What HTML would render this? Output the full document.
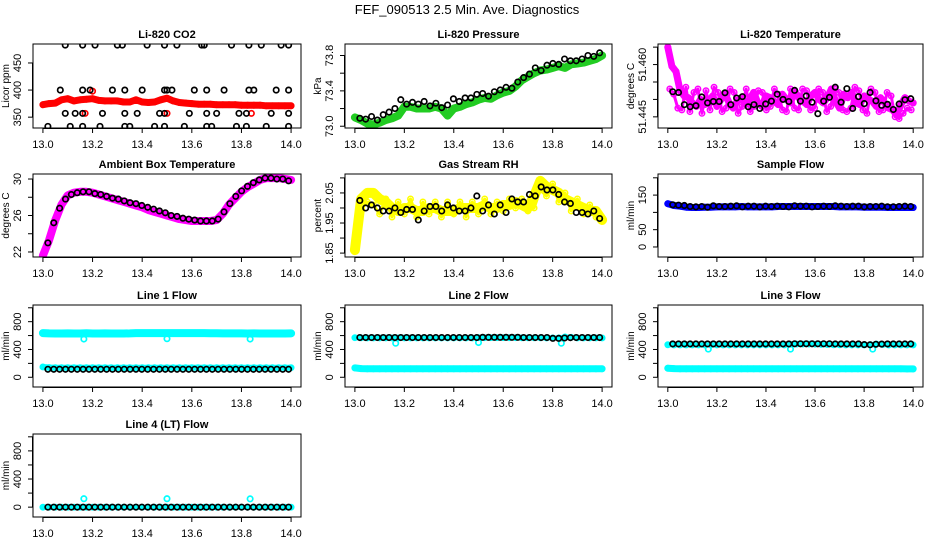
<!DOCTYPE html>
<html><head><meta charset="utf-8">
<style>
html,body{margin:0;padding:0;background:#fff;}
svg{display:block;font-family:"Liberation Sans",Arial,sans-serif;}
</style></head>
<body>
<svg id="chart" width="936" height="540" viewBox="0 0 936 540" xmlns="http://www.w3.org/2000/svg">
<rect width="936" height="540" fill="#fff"/>
<text x="467" y="14" text-anchor="middle" font-size="13">FEF_090513  2.5 Min. Ave. Diagnostics</text>
</svg>
<script>
// ---- data ----
const xTicks = [13.0, 13.2, 13.4, 13.6, 13.8, 14.0];
const xTickLabels = ["13.0", "13.2", "13.4", "13.6", "13.8", "14.0"];

// CO2
const co2RefT = [13.09,13.16,13.21,13.30,13.32,13.42,13.49,13.54,13.64,13.65,13.76,13.83,13.88,13.96,13.99,
  13.07,13.16,13.19,13.28,13.33,13.40,13.49,13.50,13.52,13.61,13.66,13.73,13.83,13.85,13.94,13.99,
  13.09,13.13,13.16,13.24,13.33,13.38,13.47,13.49,13.59,13.66,13.70,13.79,13.82,13.92,13.99,
  13.02,13.11,13.16,13.23,13.33,13.35,13.45,13.49,13.57,13.66,13.68,13.78,13.82,13.90,13.99];
const co2RefV = [483,483,483,483,483,483,483,483,483,483,483,483,483,483,483,
  400,400,400,400,400,400,400,400,400,400,400,400,400,400,400,400,
  357,357,357,357,357,357,357,357,357,357,357,357,357,357,357,
  333,333,333,333,333,333,333,333,333,333,333,333,333,333,333];
const co2Dense = [373,375,376,382,384,380,382,383,384,381,380,380,380,378,378,382,378,377,378,382,385,380,377,376,375,374,374,374,373,373,373,373,372,372,372,372,371,371,371,371,371];
const co2OutT = [13.2, 13.17, 13.5, 13.84];
const co2OutV = [398, 357, 357, 357];

// Pressure
const presBlack = [73.09,73.08,73.11,73.07,73.13,73.16,73.2,73.3,73.25,73.27,73.25,73.28,73.23,73.26,73.21,73.24,73.31,73.28,73.32,73.32,73.36,73.37,73.34,73.39,73.41,73.44,73.43,73.5,73.55,73.59,73.66,73.63,73.69,73.71,73.7,73.76,73.74,73.74,73.76,73.8,73.79,73.83];
const presDense = [73.1,73.07,73.03,73.02,73.04,73.07,73.09,73.12,73.22,73.22,73.2,73.2,73.2,73.22,73.2,73.12,73.2,73.22,73.25,73.27,73.3,73.32,73.31,73.35,73.38,73.4,73.45,73.52,73.56,73.6,73.63,73.64,73.66,73.68,73.66,73.7,73.71,73.72,73.74,73.76,73.8];

// Li-820 temperature
const tempBlack = [51.4522,51.4520,51.4485,51.4479,51.4482,51.4507,51.4490,51.4494,51.4494,51.4519,51.4485,51.4504,51.4508,51.4479,51.4485,51.4474,51.4487,51.4495,51.4515,51.4500,51.4494,51.4526,51.4495,51.4510,51.4492,51.4459,51.4495,51.4506,51.4535,51.4492,51.4531,51.4474,51.4508,51.4488,51.4520,51.4496,51.4483,51.4486,51.4471,51.4487,51.4499,51.4502];
const tempMag = [51.4650,51.4595,51.4580,51.4525,51.4510,51.4505,51.4490,51.4480,51.4500,51.4485,51.4495,51.4510,51.4480,51.4500,51.4515,51.4490,51.4475,51.4495,51.4505,51.4485,51.4500,51.4520,51.4490,51.4480,51.4510,51.4505,51.4495,51.4485,51.4515,51.4500,51.4490,51.4525,51.4505,51.4495,51.4485,51.4510,51.4520,51.4500,51.4490,51.4505,51.4530,51.4495,51.4475,51.4515,51.4505,51.4520,51.4490,51.4485,51.4510,51.4500,51.4495,51.4480,51.4505,51.4490,51.4475,51.4470,51.4455,51.4485,51.4505,51.4495,51.4490];
const tempMag2 = [51.4530,51.4515,51.4475,51.4470,51.4535,51.4465,51.4520,51.4530,51.4460,51.4525,51.4470,51.4535,51.4520,51.4465,51.4475,51.4530,51.4520,51.4460,51.4480,51.4530,51.4465,51.4480,51.4525,51.4520,51.4470,51.4480,51.4530,51.4515,51.4470,51.4465,51.4530,51.4475,51.4470,51.4530,51.4525,51.4470,51.4475,51.4530,51.4520,51.4465,51.4480,51.4530,51.4520,51.4470,51.4465,51.4475,51.4535,51.4525,51.4470,51.4460,51.4530,51.4520,51.4465,51.4470,51.4520,51.4510,51.4450,51.4445,51.4460,51.4475,51.4470];

// Ambient box temperature
const ambBlack = [23.0,25.2,26.8,27.8,28.3,28.5,28.6,28.6,28.4,28.3,28.1,27.9,27.8,27.6,27.4,27.3,27.1,26.9,26.7,26.5,26.3,26.0,25.9,25.7,25.6,25.5,25.4,25.4,25.4,25.6,26.4,27.3,28.1,28.7,29.2,29.6,29.9,30.1,30.1,30.0,30.0,29.8];
const ambDense = [21.6,23.3,25.5,27.2,28.2,28.5,28.6,28.6,28.5,28.3,28.1,27.9,27.7,27.5,27.3,27.1,26.9,26.6,26.4,26.2,26.0,25.8,25.6,25.5,25.4,25.4,25.4,25.4,25.5,26.2,27.2,27.9,28.6,29.1,29.5,29.9,30.1,30.1,30.1,30.0,29.9];

// Gas stream RH
const rhBlack = [2.025,2.0,2.01,2.0,1.99,1.99,2.0,1.985,1.995,1.995,1.96,1.99,2.005,2.005,1.99,2.01,2.0,1.99,1.99,2.0,2.04,1.99,2.01,1.98,2.01,1.985,2.03,2.02,2.02,2.045,2.04,2.07,2.06,2.06,2.045,2.02,2.015,1.985,1.985,1.98,1.99,1.965];
const rhDense = [1.86,2.03,2.05,2.05,2.03,2.02,2.0,1.99,2.0,2.0,1.99,1.99,2.0,2.0,1.99,1.99,1.99,2.0,2.0,2.0,2.0,2.01,2.0,2.0,2.01,2.01,2.02,2.01,2.0,2.04,2.09,2.07,2.06,2.05,2.03,2.02,2.01,2.0,1.99,1.99,1.96];
const rhDense2 = [1.90,2.00,2.02,2.01,1.98,2.03,1.97,2.02,1.98,2.03,1.97,2.02,1.98,2.02,1.97,2.02,1.98,2.02,1.97,2.02,1.98,2.03,1.98,2.02,1.99,2.03,2.00,2.03,1.99,2.00,2.06,2.04,2.08,2.02,2.05,1.99,2.03,1.98,2.01,1.97,1.96];

// Sample flow
const sfBlack = [122,121,120,117,116,117,115,119,117,117,118,119,116,118,118,116,118,117,118,117,116,119,118,118,116,117,118,117,119,118,117,118,118,116,117,117,118,116,116,117,118,117];
const sfDense = [125,120,118,115,114,114,115,115,116,116,116,116,117,116,116,116,116,116,117,117,117,117,117,117,117,117,117,117,116,116,116,116,115,115,115,115,114,114,114,114,114];

// Line flows
const dipT = [13.165, 13.5, 13.835];
const l1Black = [115,115,115,115,115,115,115,115,115,115,115,115,115,115,115,115,115,115,115,115,115,115,115,115,115,115,115,115,115,115,115,115,115,115,115,115,115,115,115,115,115,115];
const l1Upper = [635,632,630,630,632,630,630,633,630,630,632,630,630,630,632,635,635,636,636,636,635,635,636,636,635,635,635,634,634,632,632,632,632,630,632,630,630,630,630,630,632];
const l1Lower = [148,140,138,138,138,138,138,138,138,138,138,138,138,138,138,138,138,138,138,138,138,138,138,138,138,138,138,138,138,138,138,138,138,138,138,138,138,138,138,138,138];
const l1Dips = [550, 555, 550];

const l2Black = [572,572,572,572,572,572,572,572,572,572,572,572,572,572,572,572,572,572,572,572,572,575,575,575,575,575,575,575,572,572,572,572,572,560,560,565,570,572,572,572,572,572];
const l2Upper = [570,568,566,566,566,566,566,566,566,566,566,566,566,566,566,566,566,566,566,566,570,570,570,570,570,570,570,568,568,568,568,566,566,566,580,575,566,566,566,566,566];
const l2Lower = [135,125,122,122,122,122,122,122,122,122,122,122,122,122,122,122,122,122,122,122,122,122,122,122,122,122,122,122,122,122,122,122,122,122,122,122,122,122,122,122,122];
const l2Dips = [490, 500, 490];

const l3Black = [480,480,480,480,480,480,480,480,480,480,480,480,480,480,480,480,480,480,480,480,480,482,482,482,482,482,482,482,480,480,480,480,480,470,468,475,478,480,480,480,480,480];
const l3Upper = [468,466,466,466,466,466,466,466,466,466,466,466,466,466,466,466,466,466,466,466,475,478,478,478,476,472,470,468,468,466,466,466,466,470,478,470,466,466,466,466,466];
const l3Lower = [130,125,122,122,122,122,122,122,122,122,122,122,122,122,122,122,122,122,122,122,122,122,122,122,122,122,122,122,122,122,122,122,122,122,122,122,122,122,122,120,120];
const l3Dips = [405, 405, 405];

const l4Black = [0,0,0,0,0,0,0,0,0,0,0,0,0,0,0,0,0,0,0,0,0,0,0,0,0,0,0,0,0,0,0,0,0,0,0,0,0,0,0,0,0,0];
const l4Dense = [0,0,0,0,0,0,0,0,0,0,0,0,0,0,0,0,0,0,0,0,0,0,0,0,0,0,0,0,0,0,0,0,0,0,0,0,0,0,0,0,0];
const l4Out = [120, 120, 118];

// ---- rendering ----
const NS = "http://www.w3.org/2000/svg";
const svg = document.getElementById("chart");
const colL = [33, 345, 658], colR = [301, 612, 923];
const rowT = [44, 174, 305, 434], rowB = [128, 257, 387, 517];
const XMIN = 12.96, XMAX = 14.04;

function el(tag, attrs, parent) {
  const e = document.createElementNS(NS, tag);
  for (const k in attrs) e.setAttribute(k, attrs[k]);
  (parent || svg).appendChild(e);
  return e;
}
function timesN(n, start, end) { const a = []; for (let i = 0; i < n; i++) a.push(start + (end - start) * i / (n - 1)); return a; }

function panel(key, col, row, title, ylab, ymin, ymax, yt, ytl, draw) {
  const L = colL[col], R = colR[col], T = rowT[row], B = rowB[row];
  const g = el("g", {});
  
  
  const sx = v => L + (v - XMIN) / (XMAX - XMIN) * (R - L);
  const sy = v => B - (v - ymin) / (ymax - ymin) * (B - T);
  const clipId = "clip-" + key;
  const cp = el("clipPath", { id: clipId }, g);
  el("rect", { x: L, y: T, width: R - L, height: B - T }, cp);
  const plot = el("g", { "clip-path": "url(#" + clipId + ")" }, g);
  
  
  draw(plot, sx, sy);
  const box = el("rect", { x: L, y: T, width: R - L, height: B - T, fill: "none", stroke: "#000", "stroke-width": 1 }, g);
  
  
  const t = el("text", { x: (L + R) / 2, y: T - 6, "text-anchor": "middle", "font-size": 11, "font-weight": "bold" }, g);
  
  
  t.textContent = title;
  const xa = el("g", {}, g);
  
  
  el("line", { x1: sx(xTicks[0]), x2: sx(xTicks[xTicks.length - 1]), y1: B + 0.5, y2: B + 0.5, stroke: "#000" }, xa);
  xTicks.forEach((v, i) => {
    el("line", { x1: sx(v), x2: sx(v), y1: B, y2: B + 5, stroke: "#000" }, xa);
    const tl = el("text", { x: sx(v), y: B + 20, "text-anchor": "middle", "font-size": 11 }, xa);
    
    
    tl.textContent = xTickLabels[i];
  });
  const ya = el("g", {}, g);
  
  
  el("line", { x1: L - 0.5, x2: L - 0.5, y1: sy(yt[0]), y2: sy(yt[yt.length - 1]), stroke: "#000" }, ya);
  yt.forEach((v, i) => {
    el("line", { x1: L - 5, x2: L, y1: sy(v), y2: sy(v), stroke: "#000" }, ya);
    if (ytl[i]) {
      const tl = el("text", { x: L - 12, y: sy(v), "text-anchor": "middle", "font-size": 11, transform: "rotate(-90 " + (L - 12) + " " + sy(v) + ")" }, ya);
      
      
      tl.textContent = ytl[i];
    }
  });
  const yl = el("text", { x: L - 24, y: (T + B) / 2, "text-anchor": "middle", "font-size": 10, transform: "rotate(-90 " + (L - 24) + " " + (T + B) / 2 + ")" }, g);
  
  
  yl.textContent = ylab;
}

function pts(parent, sx, sy, ts, vs, color, name, r, sw) {
  const g = el("g", {}, parent);
  
  
  for (let i = 0; i < vs.length; i++) {
    const c = el("circle", { cx: sx(ts[i]), cy: sy(vs[i]), r: r || 2.7, fill: "none", stroke: color, "stroke-width": sw || 1.7 }, g);
    
    
  }
}
function band(parent, sx, sy, ts, vs, color, name, w) {
  const d = vs.map((v, i) => (i ? "L" : "M") + sx(ts[i]).toFixed(1) + " " + sy(v).toFixed(1)).join(" ");
  const p = el("path", { d: d, fill: "none", stroke: color, "stroke-width": w, "stroke-linejoin": "round", "stroke-linecap": "round" }, parent);
  
  
  pts(parent, sx, sy, ts, vs, color, name + '-points', 2.7, 1.5);
}

const tB = timesN(42, 13.02, 13.99);
const tD = timesN(41, 13.0, 14.0);
const tM = timesN(61, 13.0, 14.0);
const tM2 = timesN(61, 13.008, 13.992);

panel("co2", 0, 0, "Li-820 CO2", "Licor ppm", 330, 485, [350, 400, 450], ["350", "400", "450"], (g, sx, sy) => {
  band(g, sx, sy, tD, co2Dense, "#ff0000", "co2-band", 7);
  pts(g, sx, sy, co2OutT, co2OutV, "#ff0000", "co2-outliers");
  pts(g, sx, sy, co2RefT, co2RefV, "#000", "co2-reference-points");
});
panel("pressure", 1, 0, "Li-820 Pressure", "kPa", 72.98, 73.93, [73.0, 73.2, 73.4, 73.6, 73.8], ["73.0", "", "73.4", "", "73.8"], (g, sx, sy) => {
  band(g, sx, sy, tD, presDense, "#22cc22", "pressure-band", 8);
  pts(g, sx, sy, tB, presBlack, "#000", "pressure-reference-points");
});
panel("licor-temp", 2, 0, "Li-820 Temperature", "degrees C", 51.4418, 51.4659, [51.445, 51.450, 51.455, 51.460, 51.465], ["51.445", "", "", "51.460", ""], (g, sx, sy) => {
  band(g, sx, sy, tM2, tempMag2, "#ff00ff", "licor-temp-scatter", 3);
  band(g, sx, sy, tM, tempMag, "#ff00ff", "licor-temp-band", 7);
  pts(g, sx, sy, tB, tempBlack, "#000", "licor-temp-reference-points");
});
panel("ambient", 0, 1, "Ambient Box Temperature", "degrees C", 21.45, 30.55, [22, 24, 26, 28, 30], ["22", "", "26", "", "30"], (g, sx, sy) => {
  band(g, sx, sy, tD, ambDense, "#ff00ff", "ambient-band", 8);
  pts(g, sx, sy, tB, ambBlack, "#000", "ambient-reference-points");
});
panel("rh", 1, 1, "Gas Stream RH", "percent", 1.837, 2.113, [1.85, 1.90, 1.95, 2.00, 2.05, 2.10], ["1.85", "", "1.95", "", "2.05", ""], (g, sx, sy) => {
  band(g, sx, sy, tD, rhDense2, "#ffff00", "rh-scatter", 3);
  band(g, sx, sy, tD, rhDense, "#ffff00", "rh-band", 10);
  pts(g, sx, sy, tB, rhBlack, "#000", "rh-reference-points");
});
panel("sample-flow", 2, 1, "Sample Flow", "ml/min", -29, 211, [0, 50, 100, 150, 200], ["0", "50", "", "150", ""], (g, sx, sy) => {
  band(g, sx, sy, tD, sfDense, "#0000ff", "sample-flow-band", 7);
  pts(g, sx, sy, tB, sfBlack, "#000", "sample-flow-reference-points");
});
const fTicks = [0, 200, 400, 600, 800, 1000], fLabels = ["0", "", "400", "", "800", ""];
panel("line1", 0, 2, "Line 1 Flow", "ml/min", -140, 1040, fTicks, fLabels, (g, sx, sy) => {
  band(g, sx, sy, tD, l1Upper, "#00ffff", "line1-upper-band", 8);
  band(g, sx, sy, tD, l1Lower, "#00ffff", "line1-lower-band", 6);
  pts(g, sx, sy, dipT, l1Dips, "#00ffff", "line1-dips");
  pts(g, sx, sy, tB, l1Black, "#000", "line1-reference-points");
});
panel("line2", 1, 2, "Line 2 Flow", "ml/min", -140, 1040, fTicks, fLabels, (g, sx, sy) => {
  band(g, sx, sy, tD, l2Upper, "#00ffff", "line2-upper-band", 5);
  band(g, sx, sy, tD, l2Lower, "#00ffff", "line2-lower-band", 7);
  pts(g, sx, sy, dipT, l2Dips, "#00ffff", "line2-dips");
  pts(g, sx, sy, tB, l2Black, "#000", "line2-reference-points");
});
panel("line3", 2, 2, "Line 3 Flow", "ml/min", -140, 1040, fTicks, fLabels, (g, sx, sy) => {
  band(g, sx, sy, tD, l3Upper, "#00ffff", "line3-upper-band", 5);
  band(g, sx, sy, tD, l3Lower, "#00ffff", "line3-lower-band", 7);
  pts(g, sx, sy, dipT, l3Dips, "#00ffff", "line3-dips");
  pts(g, sx, sy, tB, l3Black, "#000", "line3-reference-points");
});
panel("line4", 0, 3, "Line 4 (LT) Flow", "ml/min", -140, 1040, fTicks, fLabels, (g, sx, sy) => {
  band(g, sx, sy, tD, l4Dense, "#00ffff", "line4-band", 5);
  pts(g, sx, sy, dipT, l4Out, "#00ffff", "line4-outliers");
  pts(g, sx, sy, tB, l4Black, "#000", "line4-reference-points");
});
</script>
</body></html>
